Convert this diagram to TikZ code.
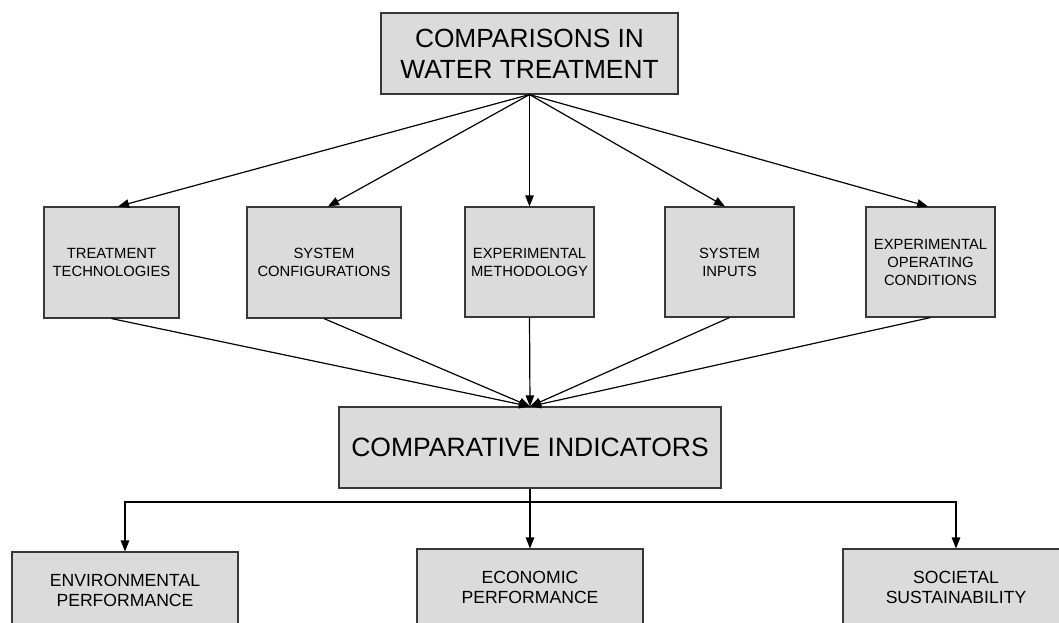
\documentclass[tikz,border=0pt]{standalone}
\usepackage{fontspec}
\setmainfont{Liberation Sans}
\usetikzlibrary{arrows.meta,calc}
\tikzset{
  box/.style={draw=black!78, line width=1.1pt, fill=black!14, align=center, inner sep=0pt, font=\fontsize{14.8}{18}\selectfont},
  bigbox/.style={box, font=\fontsize{26.3}{31}\selectfont},
  lowbox/.style={box, font=\fontsize{17.6}{20}\selectfont},
  arr/.style={-{Triangle[length=11pt,width=8.5pt]}, line width=1.2pt, black}
}
\begin{document}
\begin{tikzpicture}[x=1pt,y=-1pt]
\clip (0,0) rectangle (1059,622);
\fill[white] (0,0) rectangle (1059,622);
% top
\node[bigbox, minimum width=297pt, minimum height=81pt] (top) at (529.5,53.5) {COMPARISONS IN\\WATER TREATMENT};
% middle row
\node[box, minimum width=135pt, minimum height=111pt] (tt) at (111.5,262.5) {TREATMENT\\TECHNOLOGIES};
\node[box, minimum width=154pt, minimum height=111pt] (sc) at (324,262.5) {SYSTEM\\CONFIGURATIONS};
\node[box, minimum width=129pt, minimum height=110pt] (em) at (529.5,262) {EXPERIMENTAL\\METHODOLOGY};
\node[box, minimum width=129pt, minimum height=110pt] (si) at (729.5,262) {SYSTEM\\INPUTS};
\node[box, minimum width=129pt, minimum height=110pt] (eoc) at (930.5,262) {EXPERIMENTAL\\OPERATING\\CONDITIONS};
% comparative indicators
\node[bigbox, minimum width=382pt, minimum height=81pt, font=\fontsize{26.5}{31}\selectfont] (ci) at (530,447.5) {COMPARATIVE INDICATORS};
% bottom row
\node[lowbox, minimum width=226pt, minimum height=76pt] (env) at (125,590) {ENVIRONMENTAL\\PERFORMANCE};
\node[lowbox, minimum width=226pt, minimum height=76pt] (eco) at (530,587) {ECONOMIC\\PERFORMANCE};
\node[lowbox, minimum width=226pt, minimum height=76pt] (soc) at (956,587) {SOCIETAL\\SUSTAINABILITY};
% top to middle
\draw[arr] (top.south) -- ([xshift=6.5pt]tt.north);
\draw[arr] (top.south) -- ([xshift=4pt]sc.north);
\draw[arr] (top.south) -- (em.north);
\draw[arr] (top.south) -- ([xshift=-4.5pt]si.north);
\draw[arr] (top.south) -- ([xshift=-2.5pt]eoc.north);
% middle to ci
\draw[arr] (tt.south) -- (ci.north);
\draw[arr] (sc.south) -- (ci.north);
\draw[arr] (em.south) -- (ci.north);
\draw[arr] (si.south) -- (ci.north);
\draw[arr] (eoc.south) -- (ci.north);
% ci to bottom
\coordinate (bus) at (530,502);
\draw[line width=1.2pt] (ci.south) -- (bus);
\draw[arr] (bus) -- (eco.north);
\draw[arr] (bus) -| (env.north);
\draw[arr] (bus) -| (soc.north);
\end{tikzpicture}
\end{document}
